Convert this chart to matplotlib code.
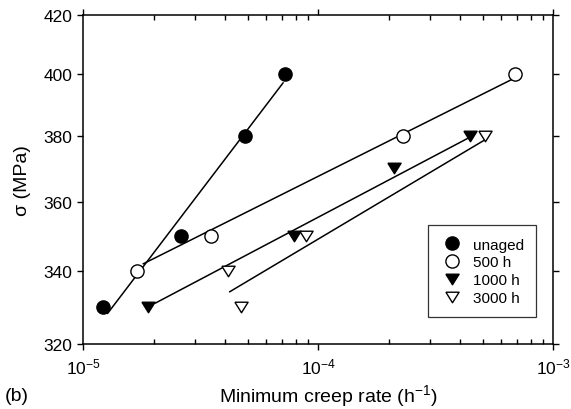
import numpy as np
import matplotlib
matplotlib.use('Agg')
import matplotlib.pyplot as plt
from matplotlib.ticker import FixedLocator, FixedFormatter, NullLocator, LogLocator, LogFormatterMathtext

plt.rcParams['font.family'] = ['Liberation Sans', 'DejaVu Sans']
plt.rcParams['mathtext.fontset'] = 'custom'
plt.rcParams['mathtext.rm'] = 'Liberation Sans'
plt.rcParams['mathtext.it'] = 'Liberation Sans:italic'

# measured points: minimum creep rate (1/h) vs stress (MPa)
unaged_rate = [1.21e-5, 2.61e-5, 4.89e-5, 7.24e-5]
unaged_stress = [330, 350, 380, 400]
h500_rate = [1.70e-5, 3.50e-5, 2.30e-4, 6.89e-4]
h500_stress = [340, 350, 380, 400]
h1000_rate = [1.89e-5, 7.89e-5, 2.10e-4, 4.40e-4]
h1000_stress = [330, 350, 370, 380]
h3000_rate = [4.11e-5, 4.69e-5, 8.87e-5, 5.12e-4]
h3000_stress = [340, 330, 350, 380]

# fitted lines (end points)
unaged_fit_rate = [1.27e-5, 7.08e-5]
unaged_fit_stress = [328.3, 397.1]
h500_fit_rate = [1.80e-5, 6.81e-4]
h500_fit_stress = [342.0, 398.6]
h1000_fit_rate = [2.03e-5, 4.50e-4]
h1000_fit_stress = [331.1, 380.0]
h3000_fit_rate = [4.20e-5, 5.10e-4]
h3000_fit_stress = [334.2, 378.8]

y_ticks = [320, 340, 360, 380, 400, 420]

fig = plt.figure(figsize=(5.71, 4.10), dpi=100)
ax = fig.add_axes([0.1459, 0.1578, 0.8231, 0.8032])

lw = 1.1
for r, s in [(unaged_fit_rate, unaged_fit_stress), (h500_fit_rate, h500_fit_stress),
             (h1000_fit_rate, h1000_fit_stress), (h3000_fit_rate, h3000_fit_stress)]:
    ax.plot(r, s, color='black', lw=lw, zorder=2)

# slightly flattened down-triangle
tri = [(-1, 0.8), (1, 0.8), (0, -0.8), (-1, 0.8)]

ms = 9.5
ax.plot(unaged_rate, unaged_stress, 'o', ms=ms, mfc='black', mec='black', ls='none',
        label='unaged', zorder=3)
ax.plot(h500_rate, h500_stress, 'o', ms=ms, mfc='white', mec='black', mew=1.0, ls='none',
        label='500 h', zorder=3)
ax.plot(h1000_rate, h1000_stress, marker=tri, ms=ms, mfc='black', mec='black', ls='none',
        label='1000 h', zorder=3)
ax.plot(h3000_rate, h3000_stress, marker=tri, ms=ms, mfc='white', mec='black', mew=1.0,
        ls='none', label='3000 h', zorder=3)

ax.set_xscale('log')
ax.set_yscale('log')
ax.set_xlim(1e-5, 1e-3)
ax.set_ylim(320, 420)

ax.xaxis.set_major_locator(LogLocator(base=10))
ax.xaxis.set_major_formatter(LogFormatterMathtext())
ax.xaxis.set_minor_locator(LogLocator(base=10, subs=np.arange(2, 10)))
ax.yaxis.set_major_locator(FixedLocator(y_ticks))
ax.yaxis.set_major_formatter(FixedFormatter([str(t) for t in y_ticks]))
ax.yaxis.set_minor_locator(NullLocator())

ax.tick_params(which='major', direction='out', length=4.5, width=1.0, labelsize=12.5,
               top=True, right=True, labelright=False, labeltop=False)
ax.tick_params(which='minor', direction='in', length=3.5, width=1.0, top=True)
ax.tick_params(axis='x', which='major', pad=4)
for sp in ax.spines.values():
    sp.set_linewidth(1.1)

ax.set_xlabel('Minimum creep rate (h$^{-1}$)', fontsize=14)
ax.xaxis.set_label_coords(0.521, -0.115)
ax.set_ylabel('σ (MPa)', fontsize=14)
ax.yaxis.set_label_coords(-0.112, 0.5)
fig.text(0.008, 0.022, '(b)', fontsize=14)

leg = ax.legend(loc='lower right', bbox_to_anchor=(0.963, 0.082), fontsize=11,
                frameon=True, fancybox=False, edgecolor='black', handletextpad=0.6,
                labelspacing=0.25, borderpad=0.8, handlelength=1.5, borderaxespad=0)
leg.get_frame().set_linewidth(0.9)

fig.savefig('out.png', dpi=100)
